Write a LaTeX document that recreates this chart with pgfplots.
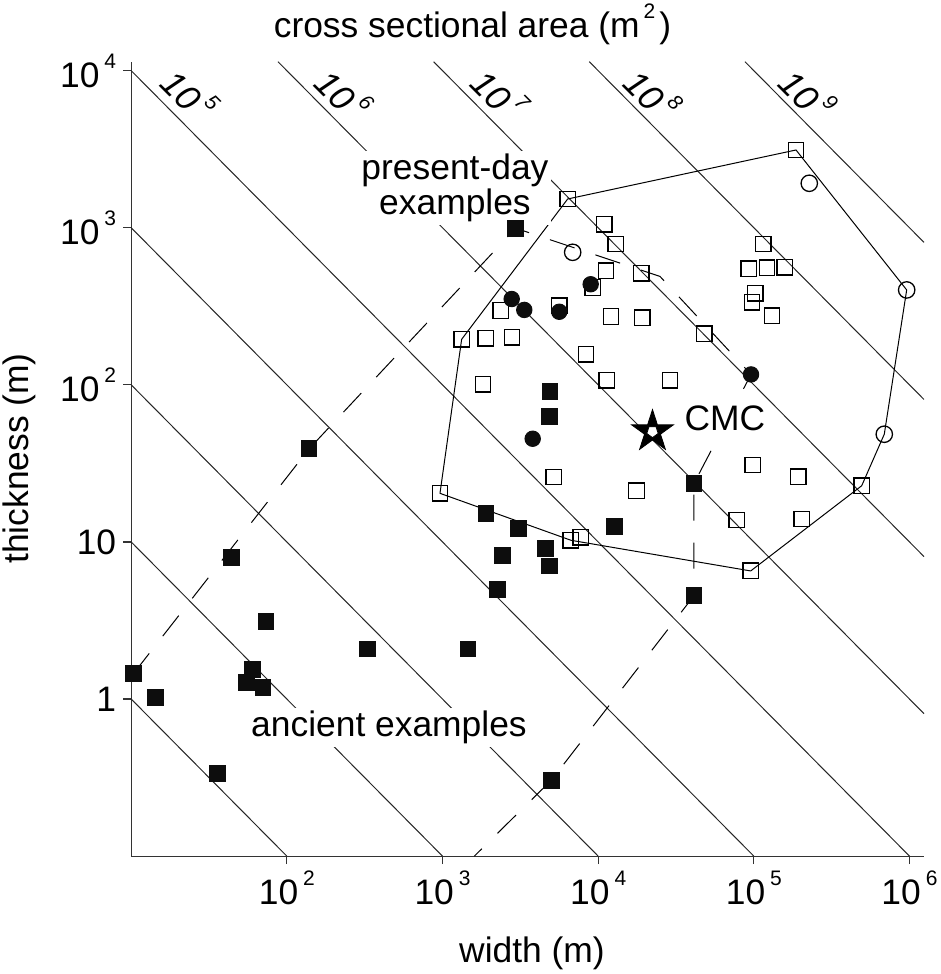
\documentclass[border=0pt]{standalone}
\usepackage{fontspec}
\setmainfont{Liberation Sans}
\usepackage{pgfplots}
\pgfplotsset{compat=1.18}
\usetikzlibrary{plotmarks}

% 10 with a raised, smaller exponent
\newcommand{\tpow}[1]{10\hspace{2.5pt}\raisebox{9.5pt}{\fontsize{10.5}{12}\selectfont #1}}
\newcommand{\bigfont}{\fontsize{17.7}{20}\selectfont}

% five-pointed star
\pgfdeclareplotmark{fstar}{%
  \pgfpathmoveto{\pgfpointpolar{90}{\pgfplotmarksize}}%
  \pgfpathlineto{\pgfpointpolar{126}{0.38\pgfplotmarksize}}%
  \pgfpathlineto{\pgfpointpolar{162}{\pgfplotmarksize}}%
  \pgfpathlineto{\pgfpointpolar{198}{0.38\pgfplotmarksize}}%
  \pgfpathlineto{\pgfpointpolar{234}{\pgfplotmarksize}}%
  \pgfpathlineto{\pgfpointpolar{270}{0.38\pgfplotmarksize}}%
  \pgfpathlineto{\pgfpointpolar{306}{\pgfplotmarksize}}%
  \pgfpathlineto{\pgfpointpolar{342}{0.38\pgfplotmarksize}}%
  \pgfpathlineto{\pgfpointpolar{18}{\pgfplotmarksize}}%
  \pgfpathlineto{\pgfpointpolar{54}{0.38\pgfplotmarksize}}%
  \pgfpathclose
  \pgfusepathqfillstroke}

\begin{document}
\begin{tikzpicture}
\begin{axis}[
  scale only axis,
  width=396.4pt, height=397.25pt,
  xmode=log, ymode=log,
  xmin=10, xmax=1.2388e6, ymin=0.1, ymax=11410,
  axis x line*=bottom, axis y line*=left,
  axis line style={-, line width=0.6pt, black!80},
  xtick={100,1000,10000,100000,1000000},
  xticklabels={\tpow{2},\tpow{3},\tpow{4},\tpow{5},\tpow{6}},
  ytick={1,10,100,1000,10000},
  yticklabels={1,10,\tpow{2},\tpow{3},\tpow{4}},
  xminorticks=false, yminorticks=false,
  tick align=outside, major tick length=4pt,
  tick style={line width=0.6pt, black!80},
  tick label style={font=\bigfont},
  clip=false,
  mark size=3.9pt,
]

% lines of constant cross sectional area
\addplot[black!85, line width=0.5pt] coordinates {(10,1) (100,0.1)};
\addplot[black!85, line width=0.5pt] coordinates {(10,10) (1000,0.1)};
\addplot[black!85, line width=0.5pt] coordinates {(10,100) (10000,0.1)};
\addplot[black!85, line width=0.5pt] coordinates {(10,1000) (100000,0.1)};
\addplot[black!85, line width=0.5pt] coordinates {(10,10000) (1000000,0.1)};
\addplot[black!85, line width=0.5pt] coordinates {(87.64,11410) (1.2388e6,0.8072)};
\addplot[black!85, line width=0.5pt] coordinates {(876.4,11410) (1.2388e6,8.072)};
\addplot[black!85, line width=0.5pt] coordinates {(8764,11410) (1.2388e6,80.72)};
\addplot[black!85, line width=0.5pt] coordinates {(87640,11410) (1.2388e6,807.2)};

% envelope of present-day examples
\addplot[black, line width=0.5pt] coordinates {
  (963,20.4) (1327,195) (6370,1525) (186600,3127) (959000,402)
  (688500,48.5) (493000,22.8) (95450,6.54) (6684,10.25) (963,20.4)};

% envelope of ancient examples
\addplot[black, line width=0.5pt, dash pattern=on 13pt off 11pt] coordinates {
  (10.3,1.445) (138.7,39.1) (2951,993) (24950,490) (95900,116.5)
  (41250,23.6) (41250,4.55) (4996,0.304) (1600,0.1)};

% labels
\node[rotate=-45, font=\bigfont\itshape] at (axis cs:23.86,7112) {\tpow{5}};
\node[rotate=-45, font=\bigfont\itshape] at (axis cs:232.8,7112) {\tpow{6}};
\node[rotate=-45, font=\bigfont\itshape] at (axis cs:2339,7112) {\tpow{7}};
\node[rotate=-45, font=\bigfont\itshape] at (axis cs:22490,7112) {\tpow{8}};
\node[rotate=-45, font=\bigfont\itshape] at (axis cs:224400,7112) {\tpow{9}};
\node[fill=white, inner sep=1.5pt, align=center, font=\fontsize{17.7}{16}\selectfont]
  at (axis cs:1202,1800) {present-day\\examples};
\node[fill=white, inner sep=1.5pt, anchor=base, font=\bigfont]
  at (axis cs:452.9,0.5763) {ancient examples};
\node[fill=white, inner sep=2pt, anchor=base, font=\bigfont]
  at (axis cs:65250,51.6) {CMC};

% present-day examples, open squares
\addplot[black, only marks, mark=square, mark options={line width=0.65pt}] coordinates {
  (6370,1525) (10940,1053) (13000,788) (11220,533) (18920,513) (9226,416)
  (2365,297) (5623,318) (12080,272) (19190,267) (1327,195) (1893,198)
  (2793,201) (8350,157) (11340,107) (1820,101) (28920,107) (186600,3127)
  (115000,788) (92700,547) (121400,557) (157800,560) (102100,383) (97300,336)
  (130700,275) (48060,211) (5176,25.9) (17660,21.2) (963,20.4) (6684,10.25)
  (7748,10.7) (98660,30.9) (192800,26.0) (77600,13.8) (202800,14.0)
  (95450,6.54) (493000,22.8)};

% open circles
\addplot[black, only marks, mark=o, mark size=4.1pt, mark options={line width=0.65pt}] coordinates {
  (6856,698) (227000,1920) (959000,402) (688500,48.5)};

% ancient examples, filled squares
\addplot[black, only marks, mark=square*, mark options={line width=0.65pt, fill=black!95, draw=black!95}] coordinates {
  (2951,993) (138.7,39.1) (44.2,7.94) (10.3,1.445) (14.3,1.027) (60.5,1.548)
  (55.2,1.272) (70.3,1.189) (73.5,3.11) (328.6,2.084) (1457,2.084) (35.7,0.334)
  (4900,90.5) (4853,62.8) (1901,15.08) (3067,12.23) (4571,9.03) (4853,7.03)
  (2435,8.18) (2249,4.95) (12760,12.52) (41250,23.6) (41250,4.55) (4996,0.304)};

% filled circles
\addplot[black, only marks, mark=*, mark size=3.85pt, mark options={line width=0.5pt, fill=black!95, draw=black!95}] coordinates {
  (2782,352) (3351,300) (5623,292) (8950,437) (3796,45.4) (95900,116.5)};

% CMC: black star with a small white centre
\addplot[black, only marks, mark=fstar, mark size=11pt, mark options={line width=0.4pt, fill=black, draw=black}] coordinates {(22330,50.4)};
\addplot[black, only marks, mark=pentagon*, mark size=3pt, mark options={fill=white, draw=none, rotate=180}] coordinates {(22330,50.4)};

% titles
\coordinate (ttl) at (axis cs:1558,16320);
\coordinate (xl) at (axis cs:3756,0.0209);
\coordinate (yl) at (axis cs:1.902,34.0);
\coordinate (bbA) at (axis cs:1.436,28180);
\coordinate (bbB) at (axis cs:1.592e6,0.01778);
\end{axis}
\node[anchor=base, font=\bigfont] at (ttl) {cross sectional area (m\hspace{2pt}\raisebox{9.5pt}{\fontsize{10.5}{12}\selectfont 2}\hspace{2pt})};
\node[anchor=base, font=\bigfont] at (xl) {width (m)};
\node[rotate=90, font=\bigfont] at (yl) {thickness (m)};
\pgfresetboundingbox
\useasboundingbox (bbA) rectangle (bbB);
\end{tikzpicture}
\end{document}
